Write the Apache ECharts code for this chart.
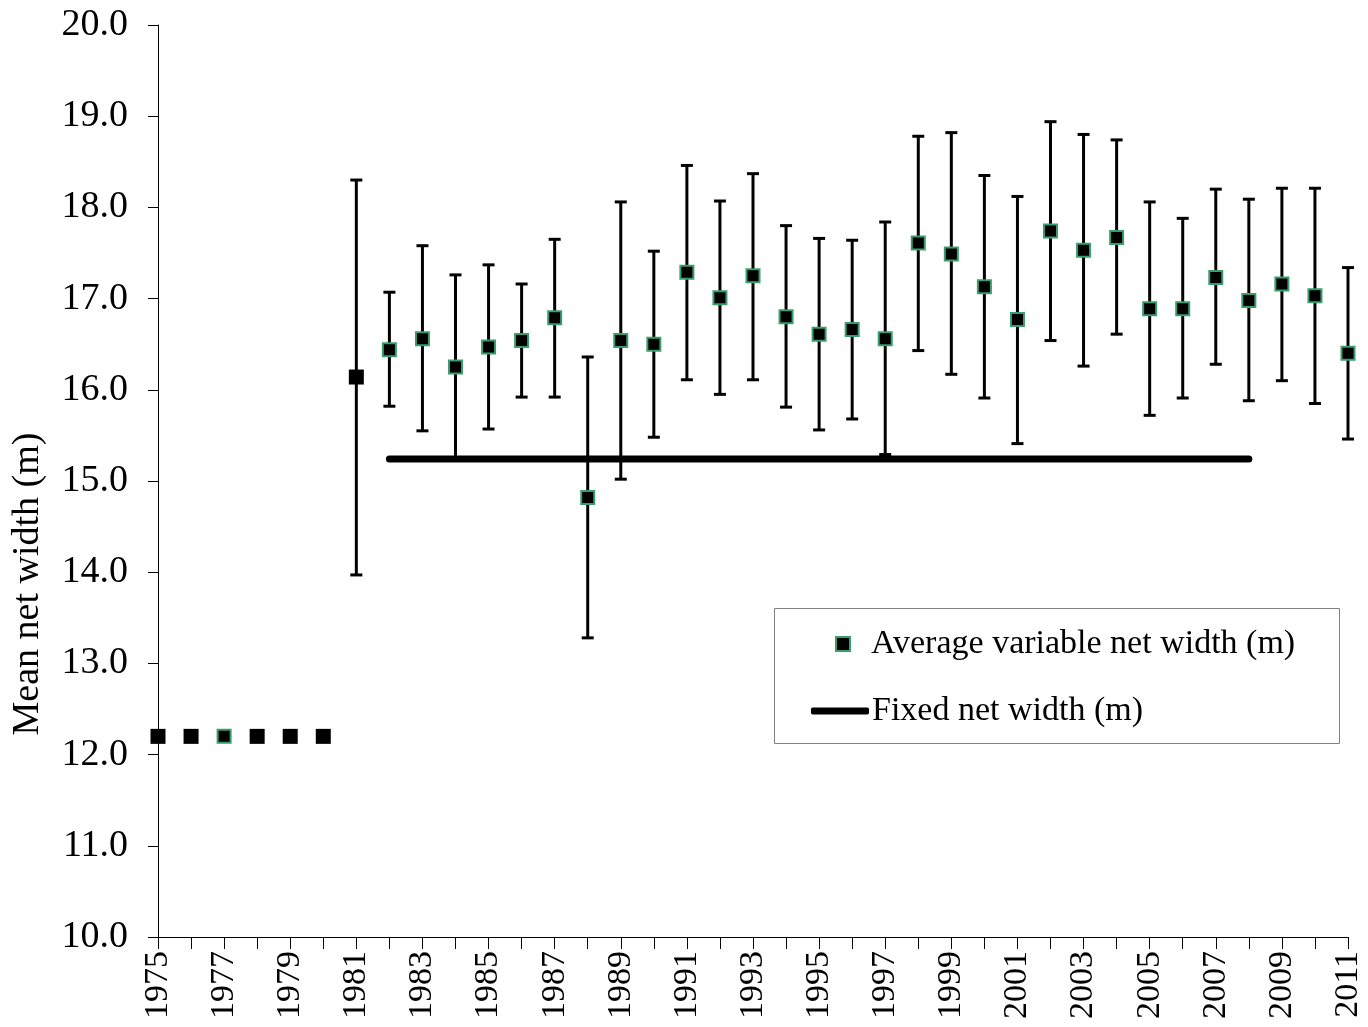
<!DOCTYPE html>
<html>
<head>
<meta charset="utf-8">
<script src="https://cdn.jsdelivr.net/npm/echarts@6/dist/echarts.min.js"></script>
<style>
html,body{margin:0;padding:0;background:#fff;}
#chart{width:1368px;height:1027px;}
</style>
</head>
<body>
<div id="chart"></div>
<script>
const years = [1975,1976,1977,1978,1979,1980,1981,1982,1983,1984,1985,1986,1987,1988,1989,1990,1991,1992,1993,1994,1995,1996,1997,1998,1999,2000,2001,2002,2003,2004,2005,2006,2007,2008,2009,2010,2011];
const means = [12.2,12.2,12.2,12.2,12.2,12.2,16.14,16.44,16.56,16.25,16.47,16.54,16.79,14.82,16.54,16.50,17.29,17.01,17.25,16.80,16.61,16.66,16.56,17.61,17.49,17.13,16.77,17.74,17.53,17.67,16.89,16.89,17.23,16.98,17.16,17.03,16.40];
const lows = [null,null,null,null,null,null,13.97,15.82,15.55,15.24,15.57,15.92,15.92,13.28,15.02,15.48,16.11,15.95,16.11,15.81,15.56,15.68,15.29,16.43,16.17,15.91,15.41,16.54,16.26,16.61,15.72,15.91,16.28,15.88,16.10,15.85,15.46];
const highs = [null,null,null,null,null,null,18.30,17.07,17.58,17.26,17.37,17.16,17.65,16.36,18.06,17.52,18.46,18.07,18.37,17.80,17.66,17.64,17.84,18.78,18.82,18.35,18.12,18.94,18.80,18.74,18.06,17.88,18.20,18.09,18.21,18.21,17.34];
const plainYears = [1975,1976,1978,1979,1980,1981];
const fixedWidth = 15.24;
const fixedStart = 1982;
const fixedEnd = 2008;
const seriesNames = ['Average variable net width (m)', 'Fixed net width (m)'];
const yTitle = 'Mean net width (m)';

const FONT = '"Liberation Serif", "Times New Roman", serif';
const GREEN = '#3a9d6e';

const outlined = [], plain = [], bars = [];
years.forEach((y, i) => {
  if (plainYears.includes(y)) plain.push([y, means[i]]); else outlined.push([y, means[i]]);
  if (lows[i] != null && highs[i] != null) bars.push([y, lows[i], highs[i]]);
});

const chart = echarts.init(document.getElementById('chart'), null, {renderer: 'canvas'});
chart.setOption({
  animation: false,
  backgroundColor: '#fff',
  grid: {left: 158, right: 20, top: 25, bottom: 90, containLabel: false},
  xAxis: {
    type: 'value', min: 1975, max: 2011, interval: 1,
    splitLine: {show: false},
    axisLine: {onZero: false, lineStyle: {color: '#000', width: 1}},
    axisTick: {show: true, length: 12, inside: false, lineStyle: {color: '#000', width: 1}},
    axisLabel: {
      rotate: 90, margin: 14, color: '#000', fontFamily: FONT, fontSize: 34,
      showMinLabel: true, showMaxLabel: true,
      formatter: v => ((v - 1975) % 2 === 0 ? String(v) : '')
    }
  },
  yAxis: {
    type: 'value', min: 10, max: 20, interval: 1,
    splitLine: {show: false},
    axisLine: {show: true, lineStyle: {color: '#000', width: 1}},
    axisTick: {show: true, length: 10, lineStyle: {color: '#000', width: 1}},
    axisLabel: {margin: 30, color: '#000', fontFamily: FONT, fontSize: 38, formatter: v => v.toFixed(1)},
    name: yTitle, nameLocation: 'middle', nameRotate: 90, nameGap: 111,
    nameTextStyle: {color: '#000', fontFamily: FONT, fontSize: 38, padding: [0, 206, 0, 0]}
  },
  legend: [
    {
      data: [seriesNames[0]], left: 830, top: 622, orient: 'vertical',
      itemWidth: 14, itemHeight: 14, icon: 'rect',
      itemStyle: {color: '#000', borderColor: GREEN, borderWidth: 2},
      textStyle: {color: '#000', fontFamily: FONT, fontSize: 34, padding: [0, 0, 0, 16]},
      selectedMode: false
    },
    {
      data: [seriesNames[1]], left: 806, top: 689, orient: 'vertical',
      itemWidth: 58, itemHeight: 7, icon: 'roundRect',
      itemStyle: {color: '#000'},
      textStyle: {color: '#000', fontFamily: FONT, fontSize: 34, padding: [0, 0, 0, -2]},
      selectedMode: false
    }
  ],
  graphic: [{
    type: 'rect', left: 774, top: 608, z: -1,
    shape: {width: 565, height: 135},
    style: {fill: '#fff', stroke: '#808080', lineWidth: 1}
  }],
  series: [
    {
      type: 'custom', name: 'errors', z: 2, silent: true,
      data: bars,
      renderItem: function (params, api) {
        const x = api.value(0);
        const lo = api.coord([x, api.value(1)]);
        const hi = api.coord([x, api.value(2)]);
        const cap = 6;
        const st = {stroke: '#000', lineWidth: 3};
        return {
          type: 'group',
          children: [
            {type: 'line', shape: {x1: lo[0], y1: lo[1], x2: hi[0], y2: hi[1]}, style: st},
            {type: 'line', shape: {x1: hi[0] - cap, y1: hi[1], x2: hi[0] + cap, y2: hi[1]}, style: st},
            {type: 'line', shape: {x1: lo[0] - cap, y1: lo[1], x2: lo[0] + cap, y2: lo[1]}, style: st}
          ]
        };
      }
    },
    {
      type: 'line', name: seriesNames[1], z: 3, symbol: 'none', showSymbol: false,
      data: [[fixedStart, fixedWidth], [fixedEnd, fixedWidth]],
      lineStyle: {color: '#000', width: 7, cap: 'round'},
      itemStyle: {color: '#000'}
    },
    {
      type: 'scatter', name: seriesNames[0], z: 5, symbol: 'rect', symbolSize: 13,
      data: outlined,
      itemStyle: {color: '#000', borderColor: GREEN, borderWidth: 2, opacity: 1}
    },
    {
      type: 'scatter', name: 'plain', z: 5, symbol: 'rect', symbolSize: 15,
      data: plain,
      itemStyle: {color: '#000', opacity: 1}
    }
  ]
});
</script>
</body>
</html>
